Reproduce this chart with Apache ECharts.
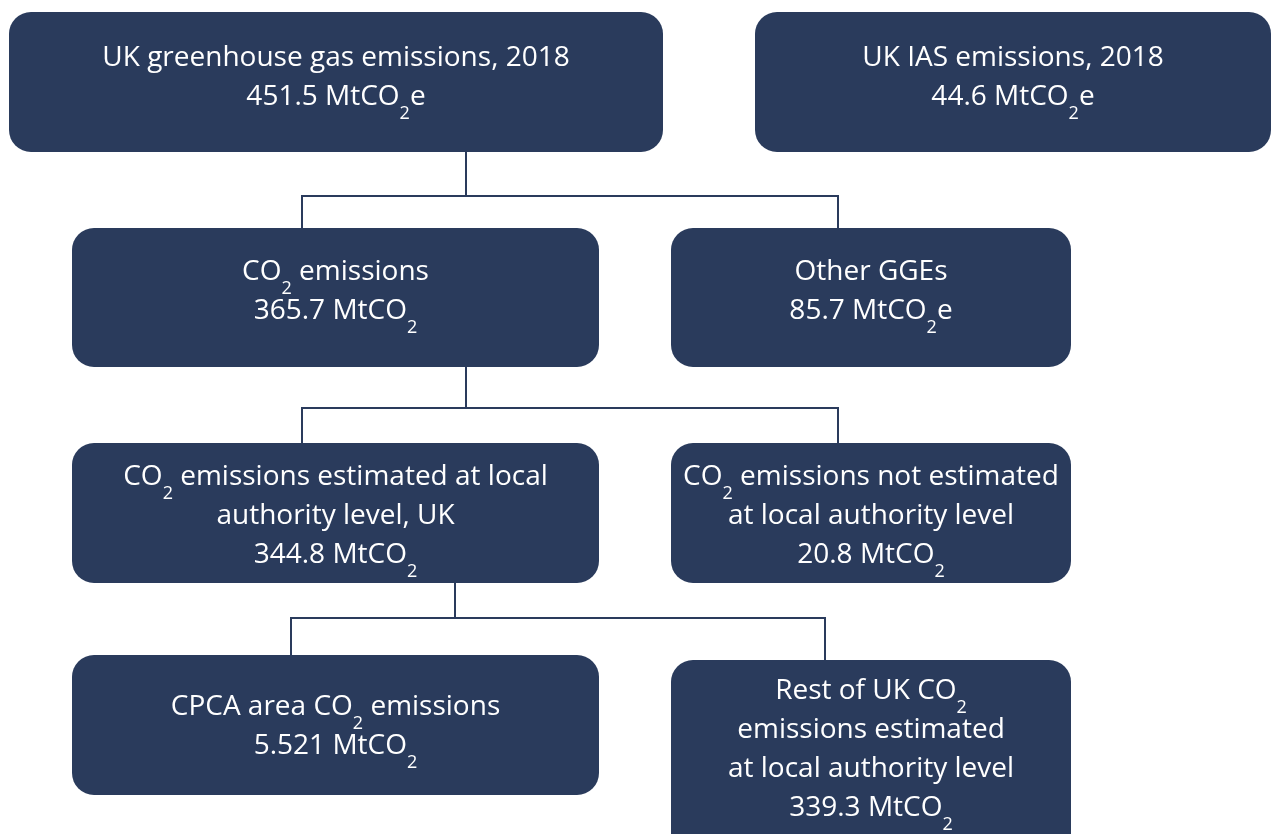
<!DOCTYPE html>
<html>
<head>
<meta charset="utf-8">
<script src="https://cdn.jsdelivr.net/npm/echarts@6/dist/echarts.min.js"></script>
<style>
  html, body { margin: 0; padding: 0; background: #ffffff; }
  #chart { width: 1271px; height: 834px; }
</style>
</head>
<body>
<div id="chart"></div>
<script>
// ---- data ----
const nodeTitles = [
  'UK greenhouse gas emissions, 2018',
  'UK IAS emissions, 2018',
  'CO2 emissions',
  'Other GGEs',
  'CO2 emissions estimated at local\nauthority level, UK',
  'CO2 emissions not estimated\nat local authority level',
  'CPCA area CO2 emissions',
  'Rest of UK CO2\nemissions estimated\nat local authority level'
];
const nodeValues = ['451.5', '44.6', '365.7', '85.7', '344.8', '20.8', '5.521', '339.3'];
const nodeUnits = ['MtCO2e', 'MtCO2e', 'MtCO2', 'MtCO2e', 'MtCO2', 'MtCO2', 'MtCO2', 'MtCO2'];
const nodeParent = [-1, -1, 0, 0, 2, 2, 4, 4];

// ---- layout (diagram units, separate from data) ----
// [left, top, right, bottom, textCenterY]
const nodeBox = [
  [9, 12, 663, 152, 78],
  [755, 12, 1271, 152, 78],
  [72, 228, 599, 367, 292],
  [671, 228, 1071, 367, 292],
  [72, 443, 599, 583, 516],
  [671, 443, 1071, 583, 516],
  [72, 655, 599, 795, 727],
  [671, 660, 1071, 860, 750]
];
const stemX = { 0: 466, 2: 466, 4: 455 };
const barY = { 0: 196, 2: 408, 4: 618 };
const attachX = { 2: 302, 3: 838, 4: 302, 5: 838, 6: 291, 7: 825 };

const NAVY = '#2a3b5c';

function richText(s) {
  return s.replace(/CO2/g, 'CO{s|2}');
}

const parents = [];
nodeParent.forEach(p => { if (p >= 0 && parents.indexOf(p) < 0) parents.push(p); });

const chart = echarts.init(document.getElementById('chart'));
chart.setOption({
  animation: false,
  grid: { left: 0, right: 0, top: 0, bottom: 0 },
  xAxis: { type: 'value', min: 0, max: 1271, show: false },
  yAxis: { type: 'value', min: 0, max: 834, inverse: true, show: false },
  series: [
    {
      type: 'custom',
      data: parents.map(p => [p]),
      renderItem: function (params, api) {
        const p = api.value(0);
        const kids = nodeParent.map((q, i) => q === p ? i : -1).filter(i => i >= 0);
        const by = barY[p];
        const children = [];
        const ls = { stroke: NAVY, lineWidth: 2, fill: null };
        children.push({ type: 'polyline', shape: { points: [api.coord([stemX[p], nodeBox[p][3]]), api.coord([stemX[p], by])] }, style: ls });
        const xs = kids.map(k => attachX[k]);
        children.push({ type: 'polyline', shape: { points: [api.coord([Math.min.apply(null, xs) - 1, by]), api.coord([Math.max.apply(null, xs) + 1, by])] }, style: ls });
        kids.forEach(k => {
          children.push({ type: 'polyline', shape: { points: [api.coord([attachX[k], by]), api.coord([attachX[k], nodeBox[k][1]])] }, style: ls });
        });
        return { type: 'group', children: children };
      }
    },
    {
      type: 'custom',
      data: nodeTitles.map((t, i) => [i]),
      renderItem: function (params, api) {
        const i = api.value(0);
        const b = nodeBox[i];
        const p0 = api.coord([b[0], b[1]]);
        const p1 = api.coord([b[2], b[3]]);
        const tc = api.coord([(b[0] + b[2]) / 2, b[4]]);
        const txt = richText(nodeTitles[i] + '\n' + nodeValues[i] + ' ' + nodeUnits[i]);
        return {
          type: 'group',
          children: [
            { type: 'rect', shape: { x: p0[0], y: p0[1], width: p1[0] - p0[0], height: p1[1] - p0[1], r: 22 }, style: { fill: NAVY } },
            {
              type: 'text',
              style: {
                x: tc[0], y: tc[1],
                text: txt,
                align: 'center', verticalAlign: 'middle',
                fill: '#ffffff',
                fontFamily: 'Open Sans',
                fontSize: 28,
                lineHeight: 39,
                rich: {
                  s: { fontSize: 18, height: 6, lineHeight: 6, verticalAlign: 'bottom', fill: '#ffffff', fontFamily: 'Open Sans' }
                }
              }
            }
          ]
        };
      }
    }
  ]
});
</script>
</body>
</html>
